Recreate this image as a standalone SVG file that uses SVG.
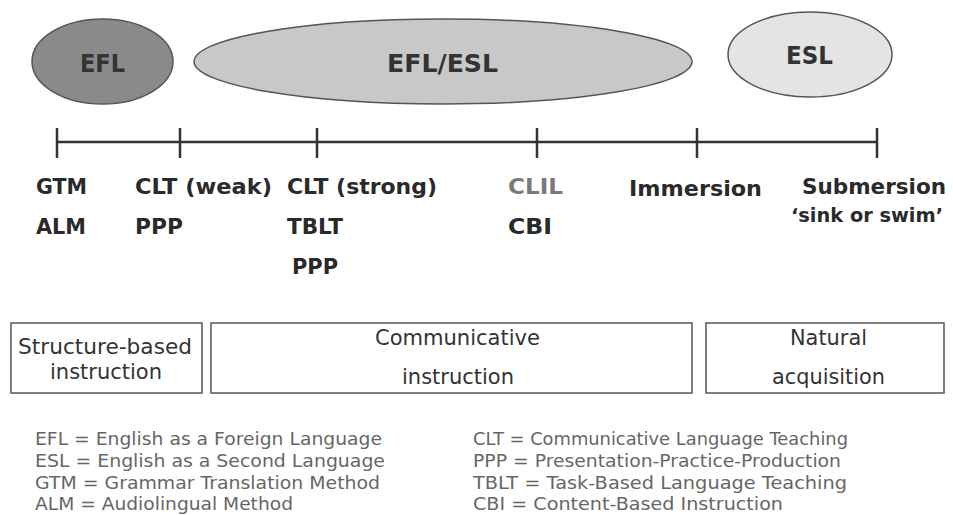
<svg xmlns="http://www.w3.org/2000/svg" width="953" height="515" viewBox="0 0 953 515">
<style>
text{font-family:"DejaVu Sans","Verdana",sans-serif}
.ell{stroke:#555;stroke-width:1.5}
.elabel{font-size:25px;font-weight:bold;fill:#333}
.lab{font-size:22px;font-weight:bold;fill:#2a2a2a}
.box{fill:#fff;stroke:#555;stroke-width:1.5}
.btxt{font-size:21px;fill:#333}
.leg{font-size:17px;fill:#666}
.axis{stroke:#333;stroke-width:2.5;fill:none}
</style>
<rect width="953" height="515" fill="#fff"/>
<g id="efl">
<ellipse class="ell" cx="102.5" cy="61.5" rx="70.5" ry="42.5" fill="#8a8a8a"/>
<text class="elabel" x="80" y="72" textLength="45" lengthAdjust="spacingAndGlyphs">EFL</text>
</g>
<g id="efl-esl">
<ellipse class="ell" cx="443" cy="61.5" rx="249" ry="42.5" fill="#c8c8c8"/>
<text class="elabel" x="387" y="72" textLength="111" lengthAdjust="spacingAndGlyphs">EFL/ESL</text>
</g>
<g id="esl">
<ellipse class="ell" cx="810" cy="54.5" rx="82" ry="42.5" fill="#e4e4e4"/>
<text class="elabel" x="786" y="64" textLength="47" lengthAdjust="spacingAndGlyphs">ESL</text>
</g>
<g id="timeline">
<path class="axis" d="M57 142H877M57 128V158M180 128V158M317 128V158M537 128V158M697 128V158M877 128V158"/>
</g>
<g id="labels">
<text class="lab" x="36" y="194" textLength="51" lengthAdjust="spacingAndGlyphs">GTM</text>
<text class="lab" x="36" y="234" textLength="50" lengthAdjust="spacingAndGlyphs">ALM</text>
<text class="lab" x="135" y="194" textLength="137" lengthAdjust="spacingAndGlyphs">CLT (weak)</text>
<text class="lab" x="135" y="234" textLength="48" lengthAdjust="spacingAndGlyphs">PPP</text>
<text class="lab" x="287" y="194" textLength="150" lengthAdjust="spacingAndGlyphs">CLT (strong)</text>
<text class="lab" x="287" y="234" textLength="56" lengthAdjust="spacingAndGlyphs">TBLT</text>
<text class="lab" x="292" y="274" textLength="46" lengthAdjust="spacingAndGlyphs">PPP</text>
<text class="lab" x="508" y="194" style="fill:#7a7a7a" textLength="55" lengthAdjust="spacingAndGlyphs">CLIL</text>
<text class="lab" x="508" y="234" textLength="44" lengthAdjust="spacingAndGlyphs">CBI</text>
<text class="lab" x="629" y="196" textLength="133" lengthAdjust="spacingAndGlyphs">Immersion</text>
<text class="lab" x="802" y="194" textLength="144" lengthAdjust="spacingAndGlyphs">Submersion</text>
<text class="lab" x="791" y="222" style="font-size:20px" textLength="152" lengthAdjust="spacingAndGlyphs">‘sink or swim’</text>
</g>
<g id="box-structure">
<rect class="box" x="11" y="323" width="191" height="70"/>
<text class="btxt" x="18" y="354" textLength="174" lengthAdjust="spacingAndGlyphs">Structure-based</text>
<text class="btxt" x="50" y="379" textLength="112" lengthAdjust="spacingAndGlyphs">instruction</text>
</g>
<g id="box-communicative">
<rect class="box" x="211" y="323" width="481" height="70"/>
<text class="btxt" x="375" y="345" textLength="165" lengthAdjust="spacingAndGlyphs">Communicative</text>
<text class="btxt" x="402" y="384" textLength="112" lengthAdjust="spacingAndGlyphs">instruction</text>
</g>
<g id="box-natural">
<rect class="box" x="706" y="323" width="238" height="70"/>
<text class="btxt" x="790" y="345" textLength="77" lengthAdjust="spacingAndGlyphs">Natural</text>
<text class="btxt" x="772" y="384" textLength="113" lengthAdjust="spacingAndGlyphs">acquisition</text>
</g>
<g id="legend">
<text class="leg" x="35" y="445" textLength="347" lengthAdjust="spacingAndGlyphs">EFL = English as a Foreign Language</text>
<text class="leg" x="35" y="467" textLength="350" lengthAdjust="spacingAndGlyphs">ESL = English as a Second Language</text>
<text class="leg" x="35" y="489" textLength="345" lengthAdjust="spacingAndGlyphs">GTM = Grammar Translation Method</text>
<text class="leg" x="35" y="510" textLength="258" lengthAdjust="spacingAndGlyphs">ALM = Audiolingual Method</text>
<text class="leg" x="473" y="445" textLength="375" lengthAdjust="spacingAndGlyphs">CLT = Communicative Language Teaching</text>
<text class="leg" x="473" y="467" textLength="368" lengthAdjust="spacingAndGlyphs">PPP = Presentation-Practice-Production</text>
<text class="leg" x="473" y="489" textLength="374" lengthAdjust="spacingAndGlyphs">TBLT = Task-Based Language Teaching</text>
<text class="leg" x="473" y="510" textLength="310" lengthAdjust="spacingAndGlyphs">CBI = Content-Based Instruction</text>
</g>
</svg>
